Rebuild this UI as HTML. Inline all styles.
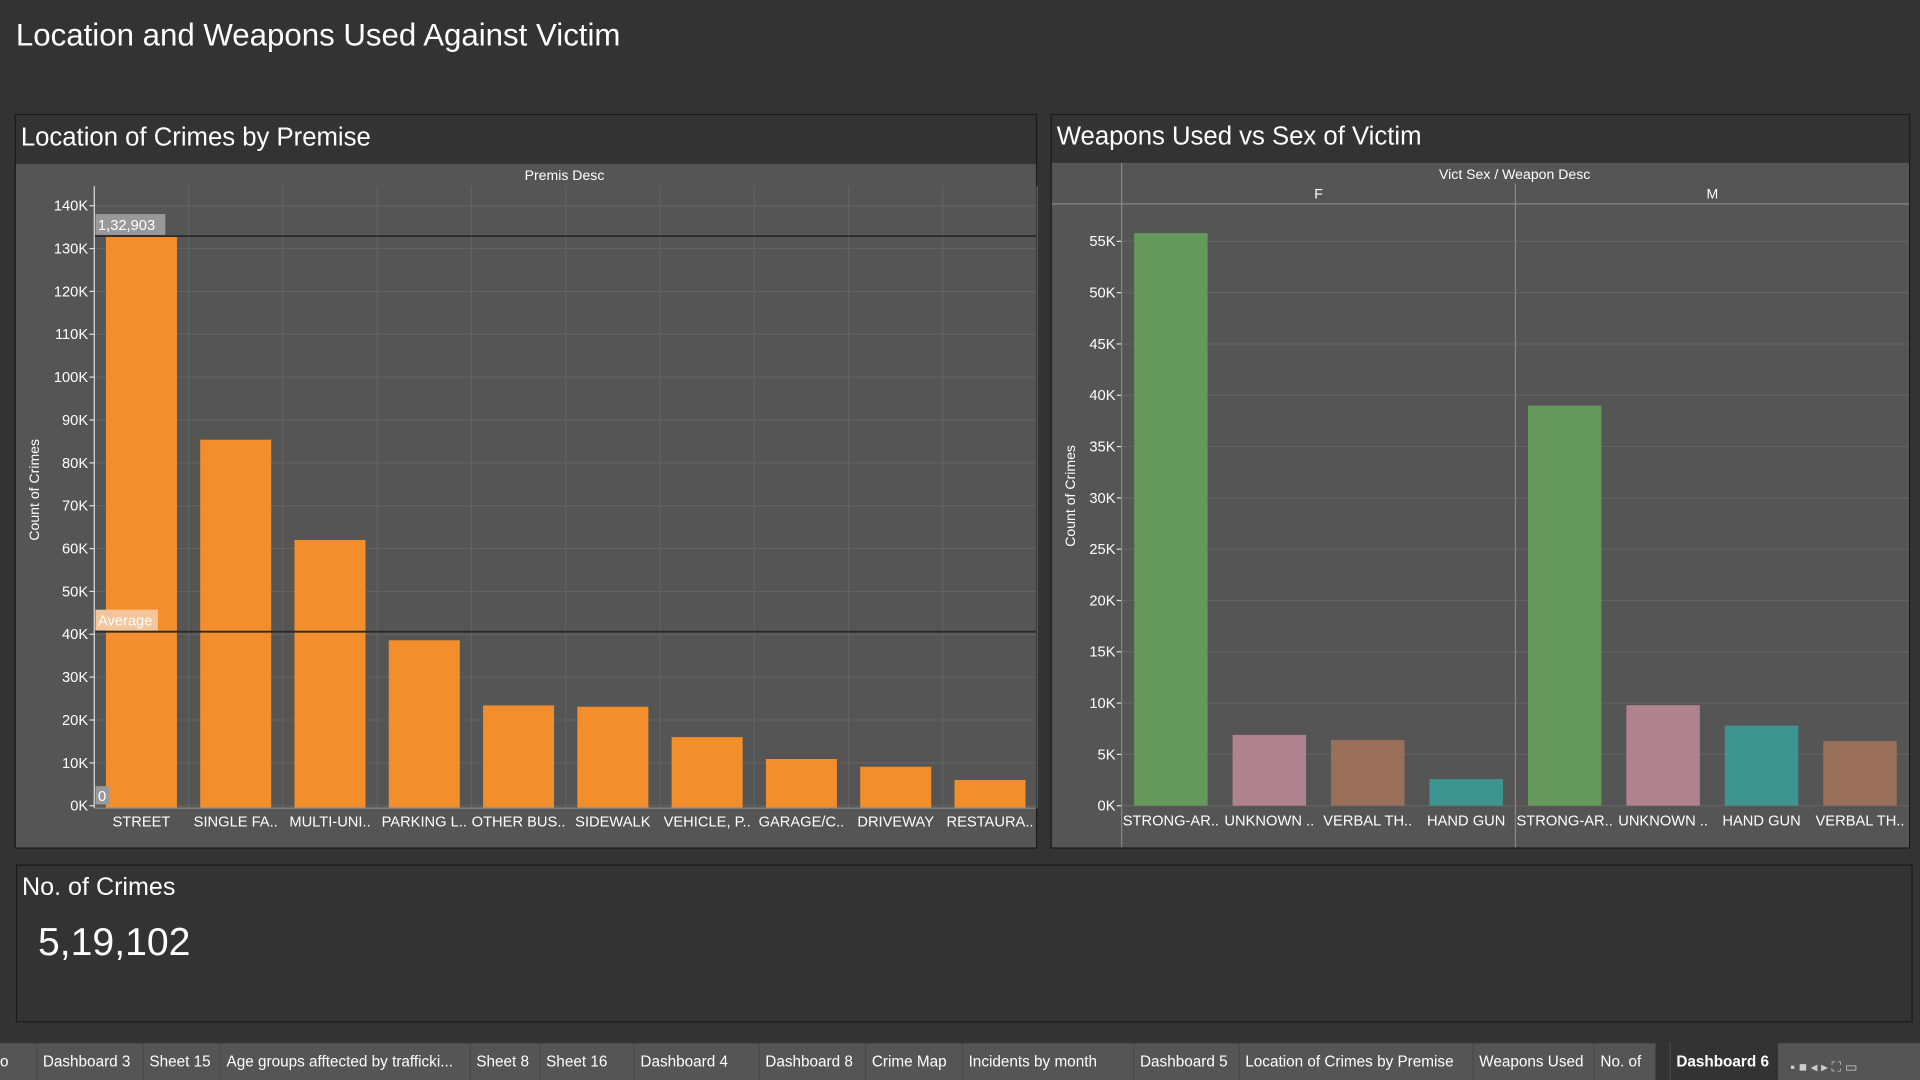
<!DOCTYPE html>
<html><head><meta charset="utf-8"><style>
html,body{margin:0;padding:0;background:#333;width:1920px;height:1080px;overflow:hidden}
svg{display:block;font-family:"Liberation Sans",sans-serif}
</style></head><body>
<svg id="s" width="1920" height="1080" viewBox="0 0 1568 882" preserveAspectRatio="none" xmlns="http://www.w3.org/2000/svg">
<rect x="0" y="0" width="1568" height="882" fill="#333"/>
<text x="13" y="37" fill="#fff" font-size="25.5">Location and Weapons Used Against Victim</text>

<g>
<rect x="12.5" y="93.5" width="834" height="599" fill="#333" stroke="#1a1a1a"/>
<rect x="13" y="134" width="833" height="558" fill="#555"/>
<text x="17" y="119" fill="#fff" font-size="21">Location of Crimes by Premise</text>
<text x="461" y="147" fill="#fff" font-size="11.5" text-anchor="middle">Premis Desc</text>
<text transform="translate(32,400) rotate(-90)" fill="#fff" font-size="11.5" text-anchor="middle">Count of Crimes</text>
<g id="g1"></g>
</g>

<g>
<rect x="858.5" y="93.5" width="701" height="599" fill="#333" stroke="#1a1a1a"/>
<rect x="859" y="133" width="700" height="559" fill="#555"/>
<text x="863" y="118" fill="#fff" font-size="21">Weapons Used vs Sex of Victim</text>
<text x="1237" y="146" fill="#fff" font-size="11.5" text-anchor="middle">Vict Sex / Weapon Desc</text>
<text transform="translate(878,405) rotate(-90)" fill="#fff" font-size="11.5" text-anchor="middle">Count of Crimes</text>
<line x1="859" y1="166.5" x2="1559" y2="166.5" stroke="#888"/>
<g id="g2"></g>
</g>

<g>
<rect x="13.5" y="706.5" width="1548" height="128" fill="#333" stroke="#1a1a1a"/>
<text x="18" y="731" fill="#fff" font-size="20.5">No. of Crimes</text>
<text x="31" y="780" fill="#fff" font-size="32">5,19,102</text>
</g>

<g id="tabs">
<rect x="0" y="852" width="1568" height="30" fill="#555"/>
</g>
</svg>
<script>
const NS="http://www.w3.org/2000/svg";
function mk(p,t,a,txt){const e=document.createElementNS(NS,t);for(const k in a)e.setAttribute(k,a[k]);if(txt!==undefined)e.textContent=txt;p.appendChild(e);return e;}

// Chart 1 data
const premises=["STREET","SINGLE FA..","MULTI-UNI..","PARKING L..","OTHER BUS..","SIDEWALK","VEHICLE, P..","GARAGE/C..","DRIVEWAY","RESTAURA.."];
const premiseCounts=[132903,85400,62000,38600,23400,23100,16000,10900,9100,6000];
const avgValue=40600;
const yTicks1=[0,10000,20000,30000,40000,50000,60000,70000,80000,90000,100000,110000,120000,130000,140000];

// Chart 2 data
const sexes=["F","M"];
const weaponsF=["STRONG-AR..","UNKNOWN ..","VERBAL TH..","HAND GUN"];
const valuesF=[55800,6900,6400,2600];
const weaponsM=["STRONG-AR..","UNKNOWN ..","HAND GUN","VERBAL TH.."];
const valuesM=[39000,9800,7800,6300];
const yTicks2=[0,5000,10000,15000,20000,25000,30000,35000,40000,45000,50000,55000];

const weaponColor={"STRONG-AR..":"#64995b","UNKNOWN ..":"#b0818e","VERBAL TH..":"#9a705a","HAND GUN":"#3e9590"};

// Chart 1
(function(){
 const g=document.getElementById('g1');
 const x0=77,colW=77,y0=658,pxPer=35/10000,top=152;
 const y=v=>y0-v*pxPer;
 for(let i=0;i<=premises.length;i++){const xx=x0+i*colW;if(i>0){const l=mk(g,'line',{x1:xx,y1:top,x2:xx,y2:660,stroke:'#626262'});}}
 yTicks1.forEach(t=>{const l=mk(g,'line',{x1:x0,y1:y(t),x2:846,y2:y(t),stroke:'#626262'});
  const tk=mk(g,'line',{x1:x0-4,y1:y(t),x2:x0,y2:y(t),stroke:'#ddd'});
  const tx=mk(g,'text',{x:x0-5,y:y(t)+4,fill:'#fff','font-size':'12','text-anchor':'end'},(t/1000)+'K');});
 premises.forEach((p,i)=>{const cx=x0+i*colW+colW/2;
  const r=mk(g,'rect',{x:cx-29,y:y(premiseCounts[i]),width:58,height:y0-y(premiseCounts[i])+2,fill:'#f28e2b'});
  const t=mk(g,'text',{x:cx,y:675,fill:'#fff','font-size':'12','text-anchor':'middle'},p);});
 const mx=Math.max(...premiseCounts);
 const ml=mk(g,'line',{x1:x0,y1:y(mx),x2:846,y2:y(mx),stroke:'#2a2a2a','stroke-width':'1.5'});
 const mb=mk(g,'rect',{x:x0+1,y:y(mx)-18,width:57,height:17,fill:'#999'});
 const mt=mk(g,'text',{x:x0+3,y:y(mx)-5,fill:'#fff','font-size':'12'},mx.toLocaleString('en-IN'));
 const al=mk(g,'line',{x1:x0,y1:y(avgValue),x2:846,y2:y(avgValue),stroke:'#2a2a2a','stroke-width':'1.5'});
 const ab=mk(g,'rect',{x:x0+1,y:y(avgValue)-18,width:51,height:17,fill:'#f4c49a'});
 const at=mk(g,'text',{x:x0+3,y:y(avgValue)-5,fill:'#fff','font-size':'12'},'Average');
 const zb=mk(g,'rect',{x:x0+1,y:y0-16,width:11,height:15,fill:'#999'});
 const zt=mk(g,'text',{x:x0+3,y:y0-4,fill:'#fff','font-size':'12'},'0');
 const ax=mk(g,'line',{x1:x0,y1:top,x2:x0,y2:660,stroke:'#ddd'});
 const bx=mk(g,'line',{x1:x0,y1:660,x2:846,y2:660,stroke:'#888'});
})();

// Chart 2
(function(){
 const g=document.getElementById('g2');
 const x0=916,colW=80.4,y0=658,pxPer=41.9/5000;
 const y=v=>y0-v*pxPer;
 yTicks2.forEach(t=>{const l=mk(g,'line',{x1:x0,y1:y(t),x2:1559,y2:y(t),stroke:'#626262'});
  const tk=mk(g,'line',{x1:x0-4,y1:y(t),x2:x0,y2:y(t),stroke:'#ddd'});
  const tx=mk(g,'text',{x:x0-5,y:y(t)+4,fill:'#fff','font-size':'12','text-anchor':'end'},(t/1000)+'K');});
 const groups=[[weaponsF,valuesF],[weaponsM,valuesM]];
 groups.forEach((gr,si)=>{
  const gx=x0+si*4*colW;
  const h=mk(g,'text',{x:gx+2*colW,y:162,fill:'#fff','font-size':'11.5','text-anchor':'middle'},sexes[si]);
  gr[0].forEach((w,i)=>{const cx=gx+i*colW+colW/2;const v=gr[1][i];
   const r=mk(g,'rect',{x:cx-30,y:y(v),width:60,height:y0-y(v),fill:weaponColor[w]});
   const t=mk(g,'text',{x:cx,y:674,fill:'#fff','font-size':'12','text-anchor':'middle'},w);});
 });
 const sep=mk(g,'line',{x1:x0+4*colW,y1:150,x2:x0+4*colW,y2:692,stroke:'#888'});
 const ax=mk(g,'line',{x1:x0,y1:133,x2:x0,y2:692,stroke:'#888'});
})();

// Tabs
const tabNames=["o","Dashboard 3","Sheet 15","Age groups afftected by trafficki...","Sheet 8","Sheet 16","Dashboard 4","Dashboard 8","Crime Map","Incidents by month","Dashboard 5","Location of Crimes by Premise","Weapons Used","No. of","Dashboard 6"];
const tabX=[0,35,122,185,389,446,523,625,712,791,931,1017,1208,1307,1369];
(function(){
 const g=document.getElementById('tabs');
 tabNames.forEach((n,i)=>{
  if(i===tabNames.length-1){const r=mk(g,'rect',{x:1352,y:852,width:100,height:30,fill:'#333'});}
  const t=mk(g,'text',{x:tabX[i],y:871,fill:'#fff','font-size':'12.5','font-weight':i===tabNames.length-1?'bold':'normal'},n);
  
  
  if(i>0){const l=mk(g,'line',{x1:tabX[i]-5,y1:852,x2:tabX[i]-5,y2:882,stroke:'#4a4a4a'});}
 });
 const ic=mk(g,'text',{x:1462,y:875,fill:'#ccc','font-size':'11'},'▪ ■ ◂ ▸ ⛶ ▭');
 
 
})();
</script>
</body></html>
